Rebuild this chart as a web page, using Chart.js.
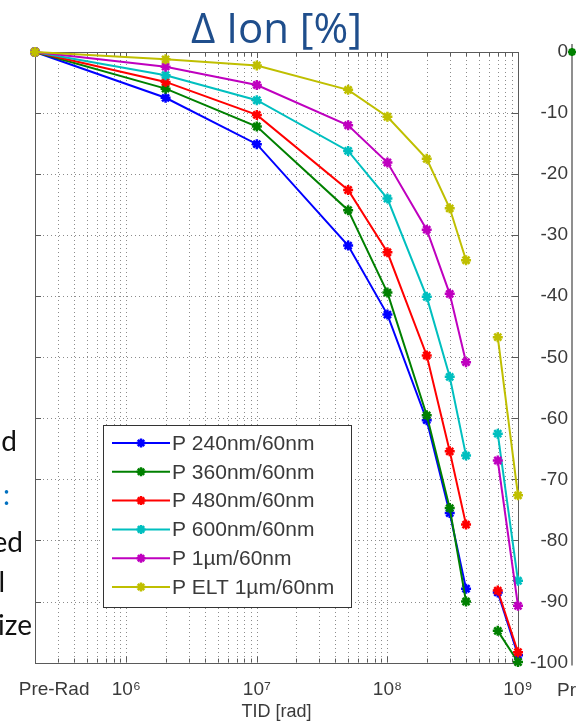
<!DOCTYPE html>
<html>
<head>
<meta charset="utf-8">
<title>Delta Ion vs TID</title>
<script src="https://cdn.jsdelivr.net/npm/chart.js@4.4.1/dist/chart.umd.min.js"></script>
<style>
  html, body { margin: 0; padding: 0; background: #fff; overflow: hidden; }
  #wrap { position: relative; width: 576px; height: 728px; }
  #chart { position: absolute; left: 0; top: 0; }
  .slide { position: absolute; font-family: Lato, "Open Sans", sans-serif; font-size: 28px;
           line-height: 28px; white-space: nowrap; color: #111; text-align: right; }
</style>
</head>
<body>
<div id="wrap">
  <canvas id="chart" width="576" height="728"></canvas>
  <div class="slide" style="right:559px; top:426px;">nd</div>
  <div class="slide" style="right:566px; top:480px; color:#0070C0;">:</div>
  <div class="slide" style="right:553px; top:527px;">ed</div>
  <div class="slide" style="right:571px; top:567px;">l</div>
  <div class="slide" style="right:544px; top:610px;">ize</div>
</div>
<script>
// dose steps, Pre-Rad is put at the left edge of the log axis
var PRE_RAD_X = 2e5;
var doseRad = [PRE_RAD_X, 2e6, 1e7, 5e7, 1e8, 2e8, 3e8, 4e8, 7e8, 1e9];
var GAP_AFTER = 4e8;   // no line between 4e8 and 7e8

var seriesNames = ['P 240nm/60nm', 'P 360nm/60nm', 'P 480nm/60nm',
                   'P 600nm/60nm', 'P 1\u00b5m/60nm', 'P ELT 1\u00b5m/60nm'];
var seriesColors = ['#0000FF', '#008000', '#FF0000', '#00BFBF', '#BF00BF', '#BFBF00'];

var p240 = [0, -7.5, -15.1, -31.7, -43.0, -60.3, -75.5, -87.9, -88.5, -98.8];
var p360 = [0, -6.0, -12.2, -25.9, -39.4, -59.5, -74.7, -90.0, -94.8, -99.9];
var p480 = [0, -4.9, -10.3, -22.6, -32.8, -49.7, -65.4, -77.4, -88.2, -98.3];
var p600 = [0, -3.8, -7.9, -16.2, -24.0, -40.1, -53.2, -66.1, -62.5, -86.6];
var p1um = [0, -2.4, -5.4, -12.0, -18.1, -29.1, -39.6, -50.8, -66.9, -90.7];
var pElt = [0, -1.2, -2.2, -6.2, -10.6, -17.5, -25.6, -34.1, -46.7, -72.6];
var seriesValues = [p240, p360, p480, p600, p1um, pElt];

// x tick labels (Pre-Rad label sits a bit right of the edge)
var xLabelValues = [2.8e5, 1e6, 1e7, 1e8, 1e9];
var xLabelTexts = ['Pre-Rad', '10\u2076', '10\u2077', '10\u2078', '10\u2079'];

var yMin = -100, yMax = 0, yStep = 10;

var GRID = '#8c8c8c';
var TEXT = '#3a3a3a';
var FONT = '"Liberation Sans", Arial, sans-serif';

function buildXTicks(scale) {
  var ticks = [{ value: xLabelValues[0], major: false }];
  for (var e = 5; e <= 8; e++) {
    var dec = Math.pow(10, e);
    for (var m = 1; m <= 9; m++) {
      var v = m * dec;
      if (v > PRE_RAD_X) ticks.push({ value: v, major: m === 1 });
    }
  }
  ticks.push({ value: 1e9, major: true });
  scale.ticks = ticks;
}

var datasets = seriesValues.map(function(vals, i) {
  return {
    label: seriesNames[i],
    data: vals,
    borderColor: seriesColors[i],
    backgroundColor: seriesColors[i],
    borderWidth: 2,
    pointStyle: 'star',
    pointRadius: 5,
    pointBorderWidth: 2.5,
    pointHoverRadius: 5,
    tension: 0,
    clip: false,
    order: seriesValues.length - i,
    segment: {
      borderColor: function(ctx) {
        return ctx.p0.parsed.x === GAP_AFTER ? 'rgba(0,0,0,0)' : undefined;
      }
    }
  };
});

// dotted matlab grid, box and inward ticks
var framePlugin = {
  id: 'frame',
  beforeDatasetsDraw: function(chart) {
    var ctx = chart.ctx, a = chart.chartArea;
    var xs = chart.scales.x, ys = chart.scales.y;
    ctx.save();
    ctx.strokeStyle = GRID;
    ctx.lineWidth = 1;
    ctx.setLineDash([1, 3]);
    ctx.beginPath();
    xs.ticks.forEach(function(t) {
      if (t.value === xLabelValues[0]) return;
      var px = Math.round(xs.getPixelForValue(t.value)) + 0.5;
      ctx.moveTo(px, a.top); ctx.lineTo(px, a.bottom);
    });
    ys.ticks.forEach(function(t) {
      var py = Math.round(ys.getPixelForValue(t.value)) + 0.5;
      ctx.moveTo(a.left, py); ctx.lineTo(a.right, py);
    });
    ctx.stroke();
    ctx.setLineDash([]);
    ctx.strokeStyle = '#5a5a5a';
    ctx.strokeRect(Math.round(a.left) + 0.5, Math.round(a.top) + 0.5,
                   Math.round(a.width), Math.round(a.height));
    ctx.beginPath();
    xs.ticks.forEach(function(t) {
      if (t.value === xLabelValues[0]) return;
      var px = Math.round(xs.getPixelForValue(t.value)) + 0.5;
      var len = t.major ? 6 : 4;
      ctx.moveTo(px, a.bottom); ctx.lineTo(px, a.bottom - len);
      ctx.moveTo(px, a.top); ctx.lineTo(px, a.top + len);
    });
    ys.ticks.forEach(function(t) {
      var py = Math.round(ys.getPixelForValue(t.value)) + 0.5;
      ctx.moveTo(a.left, py); ctx.lineTo(a.left + 6, py);
      ctx.moveTo(a.right, py); ctx.lineTo(a.right - 6, py);
    });
    ctx.stroke();
    ctx.restore();
  }
};

function drawStar(ctx, x, y, r) {
  for (var k = 0; k < 4; k++) {
    var ang = k * Math.PI / 4;
    ctx.moveTo(x - Math.cos(ang) * r, y - Math.sin(ang) * r);
    ctx.lineTo(x + Math.cos(ang) * r, y + Math.sin(ang) * r);
  }
}

var legendPlugin = {
  id: 'boxLegend',
  afterDatasetsDraw: function(chart) {
    var ctx = chart.ctx, a = chart.chartArea;
    var left = a.left + 68, top = a.top + 373, w = 248, h = 182;
    ctx.save();
    ctx.fillStyle = '#fff';
    ctx.fillRect(left, top, w, h);
    ctx.strokeStyle = '#333';
    ctx.lineWidth = 1;
    ctx.strokeRect(left + 0.5, top + 0.5, w, h);
    ctx.font = '21px ' + FONT;
    ctx.textBaseline = 'middle';
    chart.data.datasets.forEach(function(ds, i) {
      var y = top + 18 + i * 28.8;
      ctx.strokeStyle = ds.borderColor;
      ctx.lineWidth = 2;
      ctx.beginPath();
      ctx.moveTo(left + 9, y); ctx.lineTo(left + 67, y);
      ctx.stroke();
      ctx.lineWidth = 2.5;
      ctx.beginPath();
      drawStar(ctx, left + 38, y, 4.5);
      ctx.stroke();
      ctx.fillStyle = TEXT;
      ctx.fillText(ds.label, left + 69, y + 1);
    });
    ctx.restore();
  }
};

// edge of the neighbouring plot that shows at the right of the picture
var neighbourPlugin = {
  id: 'neighbour',
  afterDraw: function(chart) {
    var ctx = chart.ctx, a = chart.chartArea;
    var x = a.right + 54;
    ctx.save();
    ctx.strokeStyle = '#6a6a6a';
    ctx.lineWidth = 1.5;
    ctx.beginPath();
    ctx.moveTo(x, a.top - 8); ctx.lineTo(x, a.bottom + 3);
    ctx.stroke();
    ctx.strokeStyle = '#008000';
    ctx.lineWidth = 2.5;
    ctx.beginPath();
    drawStar(ctx, x, a.top, 4);
    ctx.stroke();
    ctx.fillStyle = TEXT;
    ctx.font = '19px ' + FONT;
    ctx.textBaseline = 'middle';
    ctx.fillText('Pre-Rad', a.right + 39, a.bottom + 28);
    ctx.restore();
  }
};

new Chart(document.getElementById('chart'), {
  type: 'line',
  data: { labels: doseRad, datasets: datasets },
  plugins: [framePlugin, legendPlugin, neighbourPlugin],
  options: {
    responsive: false,
    animation: false,
    layout: { padding: { left: 35, right: 8, top: 0, bottom: 0 } },
    plugins: {
      legend: { display: false },
      tooltip: { enabled: false },
      title: {
        display: true,
        text: '\u0394 Ion [%]',
        color: '#1F4E8C',
        fullSize: false,
        font: { family: '"Open Sans", Lato, sans-serif', size: 42, weight: 'normal', lineHeight: 1.0 },
        padding: { top: 10, bottom: 0 }
      }
    },
    scales: {
      x: {
        type: 'logarithmic',
        min: PRE_RAD_X,
        max: 1e9,
        afterBuildTicks: buildXTicks,
        grid: { display: false, drawTicks: false },
        border: { display: false },
        ticks: {
          autoSkip: false,
          maxRotation: 0,
          padding: 16,
          color: TEXT,
          font: { family: FONT, size: 19 },
          callback: function(value) {
            var k = xLabelValues.indexOf(value);
            return k >= 0 ? xLabelTexts[k] : '';
          }
        },
        title: {
          display: true,
          text: 'TID [rad]',
          color: TEXT,
          font: { family: FONT, size: 18 },
          padding: { top: -16, bottom: 5 }
        }
      },
      y: {
        type: 'linear',
        position: 'right',
        min: yMin,
        max: yMax,
        afterFit: function(scale) { scale.width = 50; },
        grid: { display: false, drawTicks: false },
        border: { display: false },
        ticks: {
          stepSize: yStep,
          crossAlign: 'far',
          padding: 12,
          color: TEXT,
          font: { family: FONT, size: 19 }
        }
      }
    }
  }
});
</script>
</body>
</html>
